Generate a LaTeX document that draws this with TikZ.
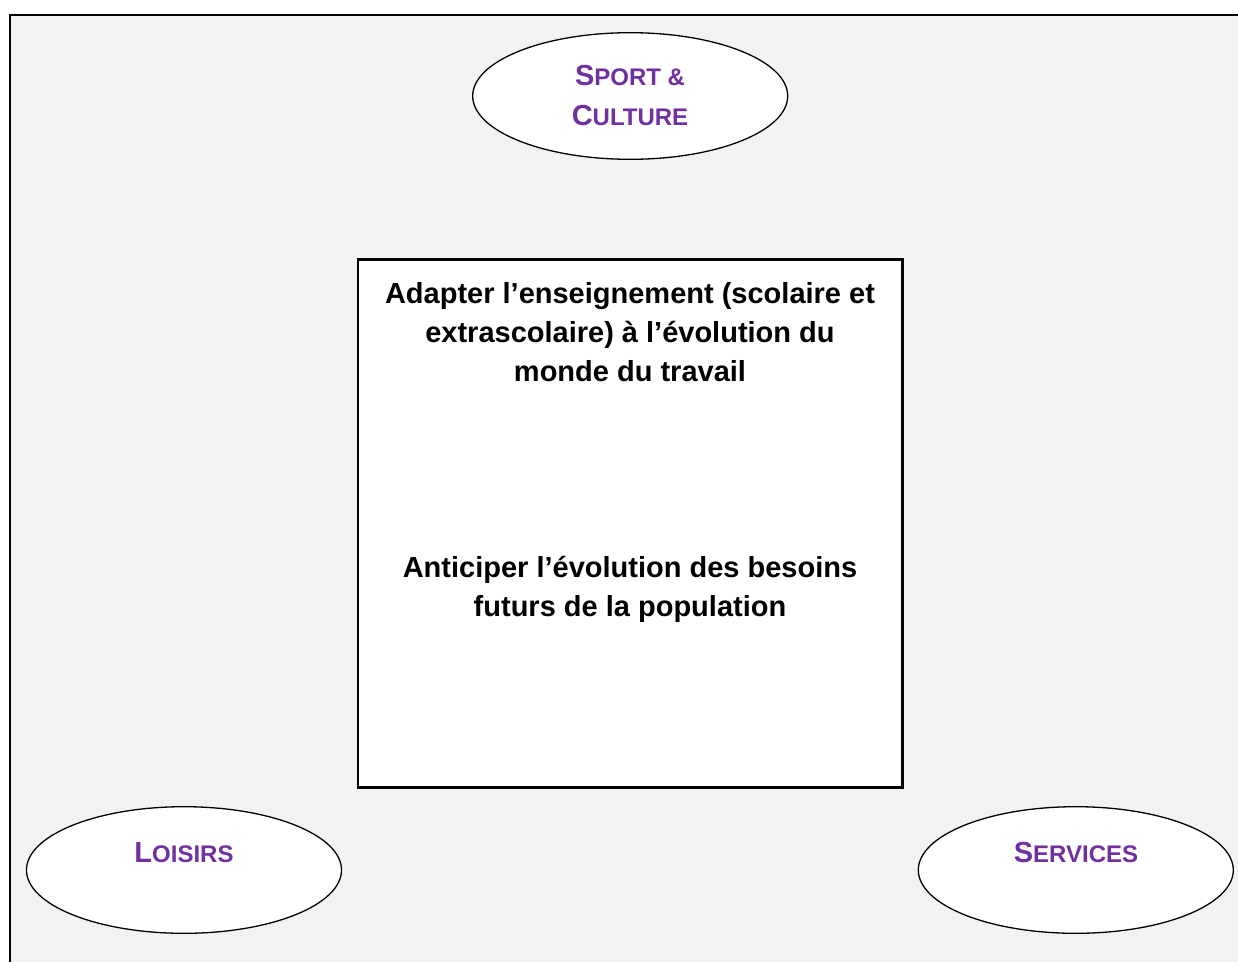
\documentclass[tikz,border=0pt]{standalone}
\usepackage{fontspec}
\setmainfont{Liberation Sans}
\usetikzlibrary{shapes.geometric}
\definecolor{bggray}{HTML}{F2F2F2}
\definecolor{topicpurple}{HTML}{7030A0}
\newcommand\mysmallcaps[2]{{\fontsize{29}{39}\selectfont #1}{\fontsize{24}{39}\selectfont #2}}
\tikzset{
  topic/.style={ellipse, draw=black, line width=1.3pt, fill=white, inner sep=0pt,
    minimum width=315pt, minimum height=126.6pt},
  topictext/.style={text=topicpurple, font=\bfseries\fontsize{29}{39.3}\selectfont, align=center, inner sep=0pt},
  mainbox/.style={rectangle, draw=black, line width=2.7pt, fill=white, inner sep=0pt,
    minimum width=544.3pt, minimum height=527.6pt},
  maintext/.style={text=black, font=\bfseries\fontsize{29}{39}\selectfont, align=center, inner sep=0pt}
}
\begin{document}
\begin{tikzpicture}[x=1pt,y=-1pt]
\useasboundingbox (0,0) rectangle (1238,961);
% background frame
\fill[bggray] (10,15) rectangle (1250,975);
\draw[line width=2pt] (10,975) -- (10,15) -- (1250,15);
% central box
\node[mainbox] (box) at (630.2,523.5) {};
\node[maintext, anchor=base] (goal1) at (630,381)
  {Adapter l’enseignement (scolaire et\\extrascolaire) à l’évolution du\\monde du travail};
\node[maintext, anchor=base] (goal2) at (630,616)
  {Anticiper l’évolution des besoins\\futurs de la population};
% topics
\node[topic] (sport) at (630.2,96) {};
\node[topictext, anchor=base] (sportt) at (630,125)
  {\mysmallcaps{S}{PORT \&}\\\mysmallcaps{C}{ULTURE}};
\node[topic] (loisirs) at (184,870) {};
\node[topictext, anchor=base] (loisirst) at (184,862) {\mysmallcaps{L}{OISIRS}};
\node[topic] (services) at (1075.8,870) {};
\node[topictext, anchor=base] (servicest) at (1076,862) {\mysmallcaps{S}{ERVICES}};
\end{tikzpicture}
\end{document}
